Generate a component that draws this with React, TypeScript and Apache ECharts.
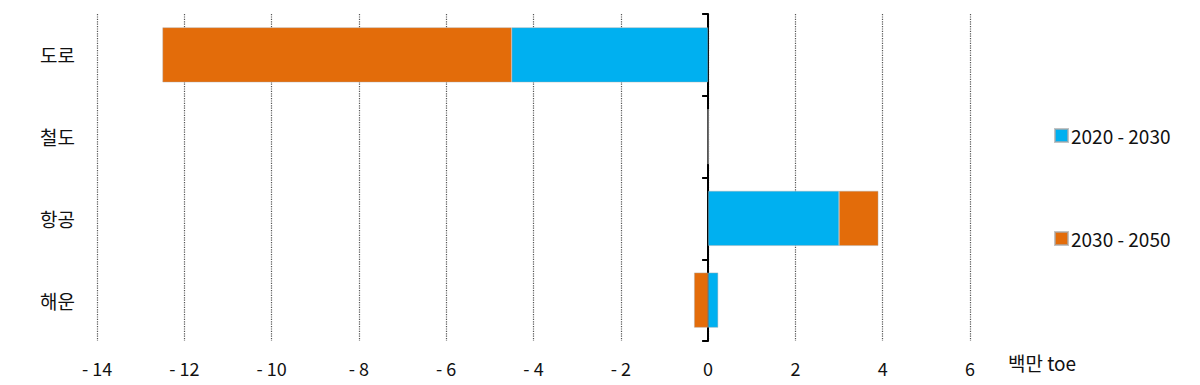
import React, { useEffect, useRef } from "react";
import * as echarts from "echarts";

const categories = ["도로", "철도", "항공", "해운"];
const series2020_2030 = [-4.5, 0, 3.0, 0.23];
const series2030_2050 = [-8.0, 0, 0.9, -0.32];
const seriesNames = ["2020 - 2030", "2030 - 2050"];
const xTicks = { min: -14, max: 6, interval: 2 };
const unitLabel = "백만 toe";

const FONT = "'Noto Sans CJK KR', 'Noto Sans', sans-serif";

export default function App() {
  const ref = useRef<HTMLDivElement>(null);
  useEffect(() => {
    if (!ref.current) return;
    const chart = echarts.init(ref.current, undefined, { renderer: "svg" });
    chart.setOption({
      animation: false,
      textStyle: { fontFamily: FONT },
      grid: { left: 97, right: 230, top: 14, bottom: 44, containLabel: false },
      legend: {
        orient: "vertical",
        left: 1054,
        top: 126,
        padding: 0,
        itemGap: 84,
        itemWidth: 13,
        itemHeight: 13,
        icon: "rect",
        textStyle: { fontSize: 19, color: "#111", fontFamily: FONT, padding: [0, 0, 0, -2] },
        data: seriesNames,
      },
      xAxis: {
        type: "value",
        min: xTicks.min,
        max: xTicks.max,
        interval: xTicks.interval,
        axisLine: { show: false },
        axisTick: { show: false },
        splitLine: { show: true, lineStyle: { type: "dotted", color: "#555", width: 1.2 } },
        axisLabel: {
          fontSize: 18,
          color: "#111",
          margin: 18,
          fontFamily: FONT,
          formatter: (v: number) => (v < 0 ? "- " + Math.abs(v) : String(v)),
        },
      },
      yAxis: [
        {
          type: "category",
          data: categories,
          inverse: true,
          axisLine: { show: true, onZero: true, lineStyle: { color: "#000", width: 2 } },
          axisTick: { show: true, length: 6, lineStyle: { color: "#000", width: 2 } },
          axisLabel: { show: false },
          splitLine: { show: false },
        },
        {
          type: "category",
          data: categories,
          inverse: true,
          position: "left",
          axisLine: { show: false, onZero: false },
          axisTick: { show: false },
          axisLabel: { show: true, fontSize: 19, color: "#111", margin: 22, fontFamily: FONT },
          splitLine: { show: false },
        },
      ],
      series: [
        {
          name: seriesNames[0],
          type: "bar",
          stack: "total",
          yAxisIndex: 0,
          barWidth: 55,
          itemStyle: { color: "#00B0F0", borderColor: "rgba(170,170,170,0.7)", borderWidth: 0.6 },
          data: series2020_2030,
        },
        {
          name: seriesNames[1],
          type: "bar",
          stack: "total",
          yAxisIndex: 0,
          barWidth: 55,
          itemStyle: { color: "#E36C0A", borderColor: "rgba(170,170,170,0.7)", borderWidth: 0.6 },
          data: series2030_2050,
        },
      ],
      graphic: [
        {
          type: "text",
          left: 1008,
          top: 353,
          style: { text: unitLabel, fontSize: 19, fill: "#111", fontFamily: FONT },
        },
      ],
    });
    return () => chart.dispose();
  }, []);
  return <div ref={ref} style={{ width: 1200, height: 385, margin: -8 }} />;
}
